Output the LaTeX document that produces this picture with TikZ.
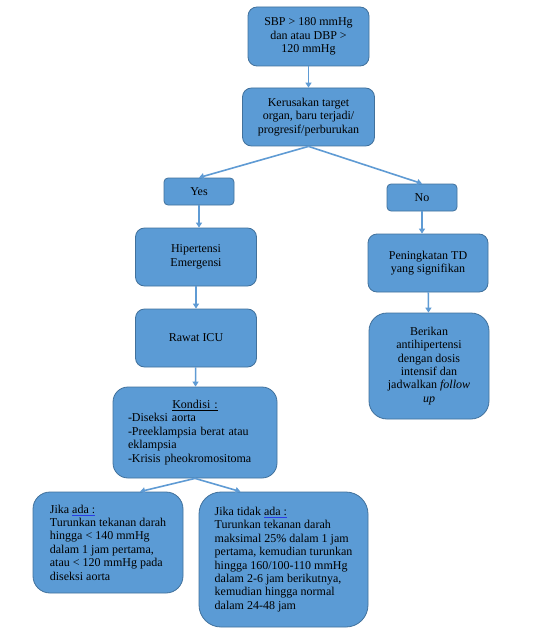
\documentclass[tikz,border=0pt]{standalone}
\usepackage{fontspec}
\setmainfont{Liberation Serif}
\usepackage{tikz}
\usetikzlibrary{arrows.meta}
\definecolor{node_blue}{RGB}{91,155,213}
\definecolor{edge_blue}{RGB}{65,113,156}
\definecolor{arrow_blue}{RGB}{95,155,212}
\definecolor{squig_blue}{RGB}{40,60,230}
\newcommand\spellmark[1]{\setbox0\hbox{#1}\rlap{\textcolor{squig_blue}{\rule[-2.4pt]{\wd0}{0.6pt}}}\box0}

\begin{document}
\begin{tikzpicture}[->,>={Triangle[length=5pt,width=6pt]},x=1pt,y=-1pt]
    \tikzstyle{blk}=[draw=edge_blue, line width=0.8pt, rectangle, rounded corners=9pt, fill=node_blue, text=black, align=center, inner sep=2pt, font=\fontsize{12}{13.4}\selectfont]
    \tikzstyle{yn}=[style=blk, rounded corners=4pt, minimum width=70pt, minimum height=27pt]
    \tikzstyle{txt}=[style=blk, align=left]
    \tikzstyle{link}=[arrow_blue, line width=1.6pt]

    \path[use as bounding box, fill=white] (0,0) rectangle (537,631);

    \node[blk, minimum width=121pt, minimum height=59pt] (sbp)   at (308.5,36.5) {SBP > 180 mmHg\\dan atau DBP >\\120 mmHg};
    \node[blk, minimum width=132pt, minimum height=58pt] (kerus) at (308.5,117)  {Kerusakan target\\organ, baru terjadi/\\progresif/perburukan};
    \node[yn] (yes) at (199,191.5) {Yes};
    \node[yn] (no)  at (422,197.5) {No};
    \node[blk, minimum width=121pt, minimum height=58pt] (hiper) at (196,257) {Hipertensi\\Emergensi};
    \node[blk, minimum width=121pt, minimum height=58pt] (rawat) at (196,338) {Rawat ICU};
    \node[txt, rounded corners=15pt, minimum height=91pt, text width=134pt, inner xsep=15pt] (kondisi) at (195,432.5)
        {\makebox[\hsize]{\spellmark{\underline{Kondisi :}}}\\-Diseksi aorta\\-Preeklampsia berat atau\\eklampsia\\-Krisis pheokromositoma};
    \node[blk, minimum width=120pt, minimum height=58pt] (pening) at (428,263) {Peningkatan TD\\yang signifikan};
    \node[blk, rounded corners=18pt, minimum width=120pt, minimum height=106pt] (berikan) at (429,366)
        {Berikan\\antihipertensi\\dengan dosis\\intensif dan\\jadwalkan \textit{follow}\\\textit{up}};
    \node[txt, rounded corners=17pt, minimum width=150pt, minimum height=101pt] (ada) at (108,542.5)
        {Jika \spellmark{ada :}\\Turunkan tekanan darah\\hingga < 140 mmHg\\dalam 1 jam pertama,\\atau < 120 mmHg pada\\diseksi aorta};
    \node[txt, rounded corners=22pt, minimum width=169pt, minimum height=135pt] (tidak) at (283.5,559.5)
        {Jika tidak \spellmark{ada :}\\Turunkan tekanan darah\\maksimal 25\% dalam 1 jam\\pertama, kemudian turunkan\\hingga 160/100-110 mmHg\\dalam 2-6 jam berikutnya,\\kemudian hingga normal\\dalam 24-48 jam};

    \path
     (sbp)     edge[link] (kerus)
     (kerus.south) edge[link] (yes.north)
     (kerus.south) edge[link] (no.north)
     (yes)     edge[link] (yes |- hiper.north)
     (hiper)   edge[link] (rawat)
     (rawat)   edge[link] (kondisi)
     (no)      edge[link] (no |- pening.north)
     (pening)  edge[link] (berikan)
     (kondisi.south) edge[link] ([xshift=32pt]ada.north)
     (kondisi.south) edge[link] ([xshift=-43pt]tidak.north)
     ;
\end{tikzpicture}
\end{document}
